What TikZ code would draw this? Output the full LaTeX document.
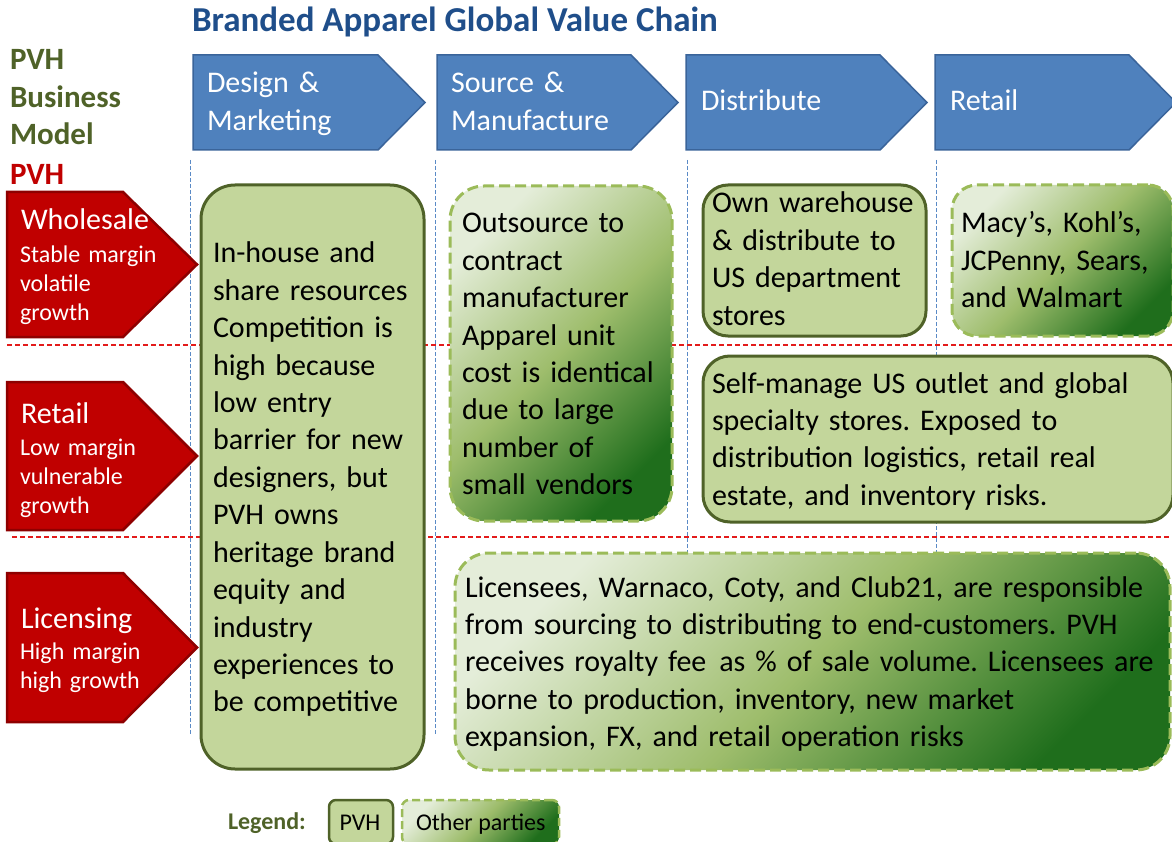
\documentclass[tikz,border=0pt]{standalone}
\usepackage{fontspec}
\setmainfont{Carlito}
\definecolor{titleblue}{HTML}{1F4E8A}
\definecolor{olive}{HTML}{4F6228}
\definecolor{pvhred}{HTML}{C00000}
\definecolor{rededge}{HTML}{8E0000}
\definecolor{stageblue}{HTML}{4F81BD}
\definecolor{stageedge}{HTML}{3A649A}
\definecolor{pvhfill}{HTML}{C3D69B}
\definecolor{pvhedge}{HTML}{4F6228}
\definecolor{otheredge}{HTML}{9BBB59}
\definecolor{gradlight}{HTML}{E4EDD9}
\definecolor{gradmid}{HTML}{9EBD6C}
\definecolor{graddark}{HTML}{1F6E1C}
\definecolor{guideblue}{HTML}{5A8AC6}
\definecolor{guidered}{HTML}{E31B1B}
\frenchspacing
\begin{document}
\begin{tikzpicture}[x=1pt,y=-1pt,
  every node/.style={inner sep=0pt, outer sep=0pt},
  stage/.style={fill=stageblue, draw=stageedge, line width=1.5pt, line join=miter},
  stagetext/.style={text=white, font=\fontsize{30}{37.4}\selectfont, anchor=base west, text width=220pt, align=left},
  model/.style={fill=pvhred, draw=rededge, line width=2.5pt, line join=miter},
  modelhead/.style={text=white, font=\fontsize{30}{36}\selectfont, anchor=base west},
  modelsub/.style={text=white, font=\fontsize{24}{29.2}\selectfont, anchor=base west, text width=170pt, align=left},
  pvhbox/.style={fill=pvhfill, draw=pvhedge, line width=3pt},
  otherbox/.style={draw=otheredge, line width=3pt, dash pattern=on 11pt off 5pt,
    top color=gradlight, bottom color=graddark, middle color=gradmid, shading angle=45},
  boxtext/.style={font=\fontsize{30}{37.4}\selectfont, anchor=base west, align=left},
  vguide/.style={guideblue, line width=0.9pt, dash pattern=on 4pt off 2pt},
  hguide/.style={guidered, line width=1.1pt, dash pattern=on 5pt off 3pt},
]
\useasboundingbox (0,0) rectangle (1172,842);
\clip (0,0) rectangle (1172,842);

% column and row guides
\coordinate (g1t) at (190,160);  \coordinate (g1b) at (190,735);
\coordinate (g2t) at (435,160);  \coordinate (g2b) at (435,735);
\coordinate (g3t) at (687,160);  \coordinate (g3b) at (687,735);
\coordinate (g4t) at (936,160);  \coordinate (g4b) at (936,735);
\draw[vguide] (g1t) -- (g1b);
\draw[vguide] (g2t) -- (g2b);
\draw[vguide] (g3t) -- (g3b);
\draw[vguide] (g4t) -- (g4b);
\coordinate (r1l) at (7,345);  \coordinate (r1r) at (1172,345);
\coordinate (r2l) at (12,537); \coordinate (r2r) at (1172,537);
\draw[hguide] (r1l) -- (r1r);
\draw[hguide] (r2l) -- (r2r);

% title and side labels
\node[font=\fontsize{35}{42}\selectfont\bfseries, text=titleblue, anchor=base west] (title) at (192,32) {Branded Apparel Global Value Chain};
\node[font=\fontsize{31}{37.5}\selectfont\bfseries, text=olive, anchor=base west, text width=150pt, align=left] (bizmodel) at (10,70) {PVH\\Business\\Model};
\node[font=\fontsize{31}{37.5}\selectfont\bfseries, text=pvhred, anchor=base west] (pvhlabel) at (10,185) {PVH};

% value chain stages
\draw[stage] (193,55) -- (378,55) -- (425,102.5) -- (378,150) -- (193,150) -- cycle;
\draw[stage] (437,55) -- (631,55) -- (678,102.5) -- (631,150) -- (437,150) -- cycle;
\draw[stage] (686,55) -- (880,55) -- (927,102.5) -- (880,150) -- (686,150) -- cycle;
\draw[stage] (935,55) -- (1129,55) -- (1176,102.5) -- (1129,150) -- (935,150) -- cycle;
\node[stagetext] (design) at (207,93) {Design \&\\Marketing};
\node[stagetext] (source) at (451,93) {Source \&\\Manufacture};
\node[stagetext] (distribute) at (701,111) {Distribute};
\node[stagetext] (retail) at (950,111) {Retail};

% business model segments
\draw[model] (7,192) -- (123,192) -- (197,264.5) -- (123,337) -- (7,337) -- cycle;
\draw[model] (7,382) -- (123,382) -- (197,456) -- (123,530) -- (7,530) -- cycle;
\draw[model] (7,573) -- (123,573) -- (197,647.5) -- (123,722) -- (7,722) -- cycle;
\node[modelhead] (wholesale) at (21,230) {Wholesale};
\node[modelsub] (wholesalesub) at (20,262) {Stable margin\\volatile\\growth};
\node[modelhead] (retailseg) at (21,423) {Retail};
\node[modelsub] (retailsub) at (20,455) {Low margin\\vulnerable\\growth};
\node[modelhead] (licensing) at (21,628) {Licensing};
\node[modelsub] (licensingsub) at (20,659) {High margin\\high growth};

% activity boxes
\node[pvhbox, rounded corners=34pt, minimum width=223pt, minimum height=584pt] (pvh) at (312.5,477) {};
\node[boxtext, text width=300pt] (pvhtxt) at (213,263) {In-house and\\share resources\\Competition is\\high because\\low entry\\barrier for new\\designers, but\\PVH owns\\heritage brand\\equity and\\industry\\experiences to\\be competitive};

\node[otherbox, rounded corners=34pt, minimum width=222pt, minimum height=335pt] (src) at (561,353.5) {};
\node[boxtext, text width=300pt] (srctxt) at (462,233) {Outsource to\\contract\\manufacturer\\Apparel unit\\cost is identical\\due to large\\number of\\small vendors};

\node[pvhbox, rounded corners=25pt, minimum width=223pt, minimum height=151pt] (dist) at (814.5,260.5) {};
\node[boxtext, text width=300pt] (disttxt) at (712,213) {Own warehouse\\\& distribute to\\US department\\stores};

\node[otherbox, rounded corners=25pt, minimum width=221pt, minimum height=151pt] (stores) at (1062.5,260.5) {};
\node[boxtext, text width=300pt] (storestxt) at (961,233) {Macy’s, Kohl’s,\\JCPenny, Sears,\\and Walmart};

\node[pvhbox, rounded corners=27pt, minimum width=470pt, minimum height=166pt] (outlet) at (938,439) {};
\node[boxtext, text width=600pt] (outlettxt) at (712,393) {Self-manage US outlet and global\\specialty stores. Exposed to\\distribution logistics, retail real\\estate, and inventory risks.};

\node[otherbox, rounded corners=34pt, minimum width=715pt, minimum height=217pt] (lic) at (812.5,661.5) {};
\node[boxtext, text width=900pt] (lictxt) at (465,597) {Licensees, Warnaco, Coty, and Club21, are responsible\\from sourcing to distributing to end-customers. PVH\\receives royalty fee\hspace{3pt} as \% of sale volume. Licensees are\\borne to production, inventory, new market\\expansion, FX, and retail operation risks};

% legend
\node[font=\fontsize{24}{28}\selectfont\bfseries, text=olive, anchor=base west] (legend) at (228,829) {Legend:};
\node[pvhbox, line width=2.5pt, rounded corners=7pt, minimum width=64pt, minimum height=44pt] (legpvh) at (361,822) {};
\node[font=\fontsize{24}{28}\selectfont, anchor=base] (legpvhtxt) at (360,830) {PVH};
\node[otherbox, line width=2.5pt, dash pattern=on 8pt off 4pt, rounded corners=7pt, minimum width=157pt, minimum height=44pt] (legother) at (480.5,822) {};
\node[font=\fontsize{24}{28}\selectfont, anchor=base west] (legothertxt) at (416,830) {Other parties};
\end{tikzpicture}
\end{document}
